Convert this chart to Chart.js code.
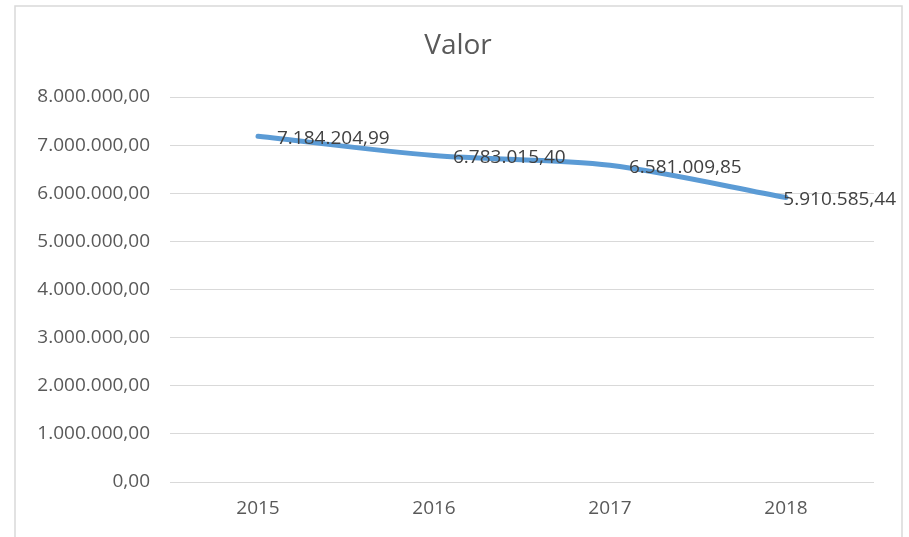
<!DOCTYPE html>
<html>
<head>
<meta charset="utf-8">
<script src="https://cdn.jsdelivr.net/npm/chart.js@4.4.1/dist/chart.umd.min.js"></script>
<style>
  html, body { margin: 0; padding: 0; background: #fff; }
  #wrap { position: relative; width: 909px; height: 537px; }
</style>
</head>
<body>
<div id="wrap"><canvas id="c" width="909" height="537"></canvas></div>
<script>
const titleText = "Valor";
const categories = ["2015", "2016", "2017", "2018"];
const values = [7184204.99, 6783015.40, 6581009.85, 5910585.44];
const yTicks = [0, 1000000, 2000000, 3000000, 4000000, 5000000, 6000000, 7000000, 8000000];

const FONT = "'Open Sans', sans-serif";

function fmt(v) {
  const neg = v < 0; v = Math.abs(v);
  const fixed = v.toFixed(2);
  let [ip, dp] = fixed.split(".");
  ip = ip.replace(/\B(?=(\d{3})+(?!\d))/g, ".");
  return (neg ? "-" : "") + ip + "," + dp;
}

const framePlugin = {
  id: "frame",
  beforeDraw(chart) {
    const ctx = chart.ctx;
    ctx.save();
    ctx.fillStyle = "#fff";
    ctx.fillRect(0, 0, chart.width, chart.height);
    ctx.strokeStyle = "#D9D9D9";
    ctx.lineWidth = 1.5;
    ctx.beginPath();
    ctx.moveTo(15, chart.height + 2);
    ctx.lineTo(15, 6);
    ctx.lineTo(902, 6);
    ctx.lineTo(902, chart.height + 2);
    ctx.stroke();
    // title
    ctx.font = "28px " + FONT;
    ctx.fillStyle = "#595959";
    ctx.textAlign = "center";
    ctx.textBaseline = "middle";
    ctx.fillText(titleText, 458, 46);
    ctx.restore();
  }
};

const labelPlugin = {
  id: "pointLabels",
  afterDatasetsDraw(chart) {
    const ctx = chart.ctx;
    const meta = chart.getDatasetMeta(0);
    ctx.save();
    ctx.font = "19px " + FONT;
    ctx.fillStyle = "#404040";
    ctx.textBaseline = "middle";
    ctx.textAlign = "left";
    meta.data.forEach((pt, i) => {
      const txt = fmt(values[i]);
      const w = ctx.measureText(txt).width;
      let x = pt.x + 19;
      if (x + w > 896) x = 896 - w;
      ctx.fillText(txt, x, pt.y + 2);
    });
    ctx.restore();
  }
};

new Chart(document.getElementById("c"), {
  type: "line",
  data: {
    labels: categories,
    datasets: [{
      data: values,
      borderColor: "#5B9BD5",
      borderWidth: 5,
      borderCapStyle: "round",
      pointRadius: 0,
      tension: 0.3,
      fill: false
    }]
  },
  options: {
    responsive: false,
    animation: false,
    layout: { padding: { left: 0, right: 35, top: 97, bottom: 0 } },
    plugins: {
      legend: { display: false },
      tooltip: { enabled: false },
      title: { display: false }
    },
    scales: {
      x: {
        offset: true,
        grid: { display: false, drawTicks: false },
        border: { display: false },
        ticks: { color: "#595959", font: { family: FONT, size: 19 }, padding: 15, maxRotation: 0 },
        afterFit(s) { s.height = 55; }
      },
      y: {
        min: 0, max: 8000000,
        afterBuildTicks(s) { s.ticks = yTicks.map(v => ({ value: v })); },
        grid: { color: "#D9D9D9", lineWidth: 1, drawTicks: false },
        border: { display: false },
        ticks: {
          color: "#595959",
          font: { family: FONT, size: 19 },
          padding: 20,
          callback: v => fmt(v)
        },
        afterFit(s) { s.width = 170; }
      }
    }
  },
  plugins: [framePlugin, labelPlugin]
});
</script>
</body>
</html>
